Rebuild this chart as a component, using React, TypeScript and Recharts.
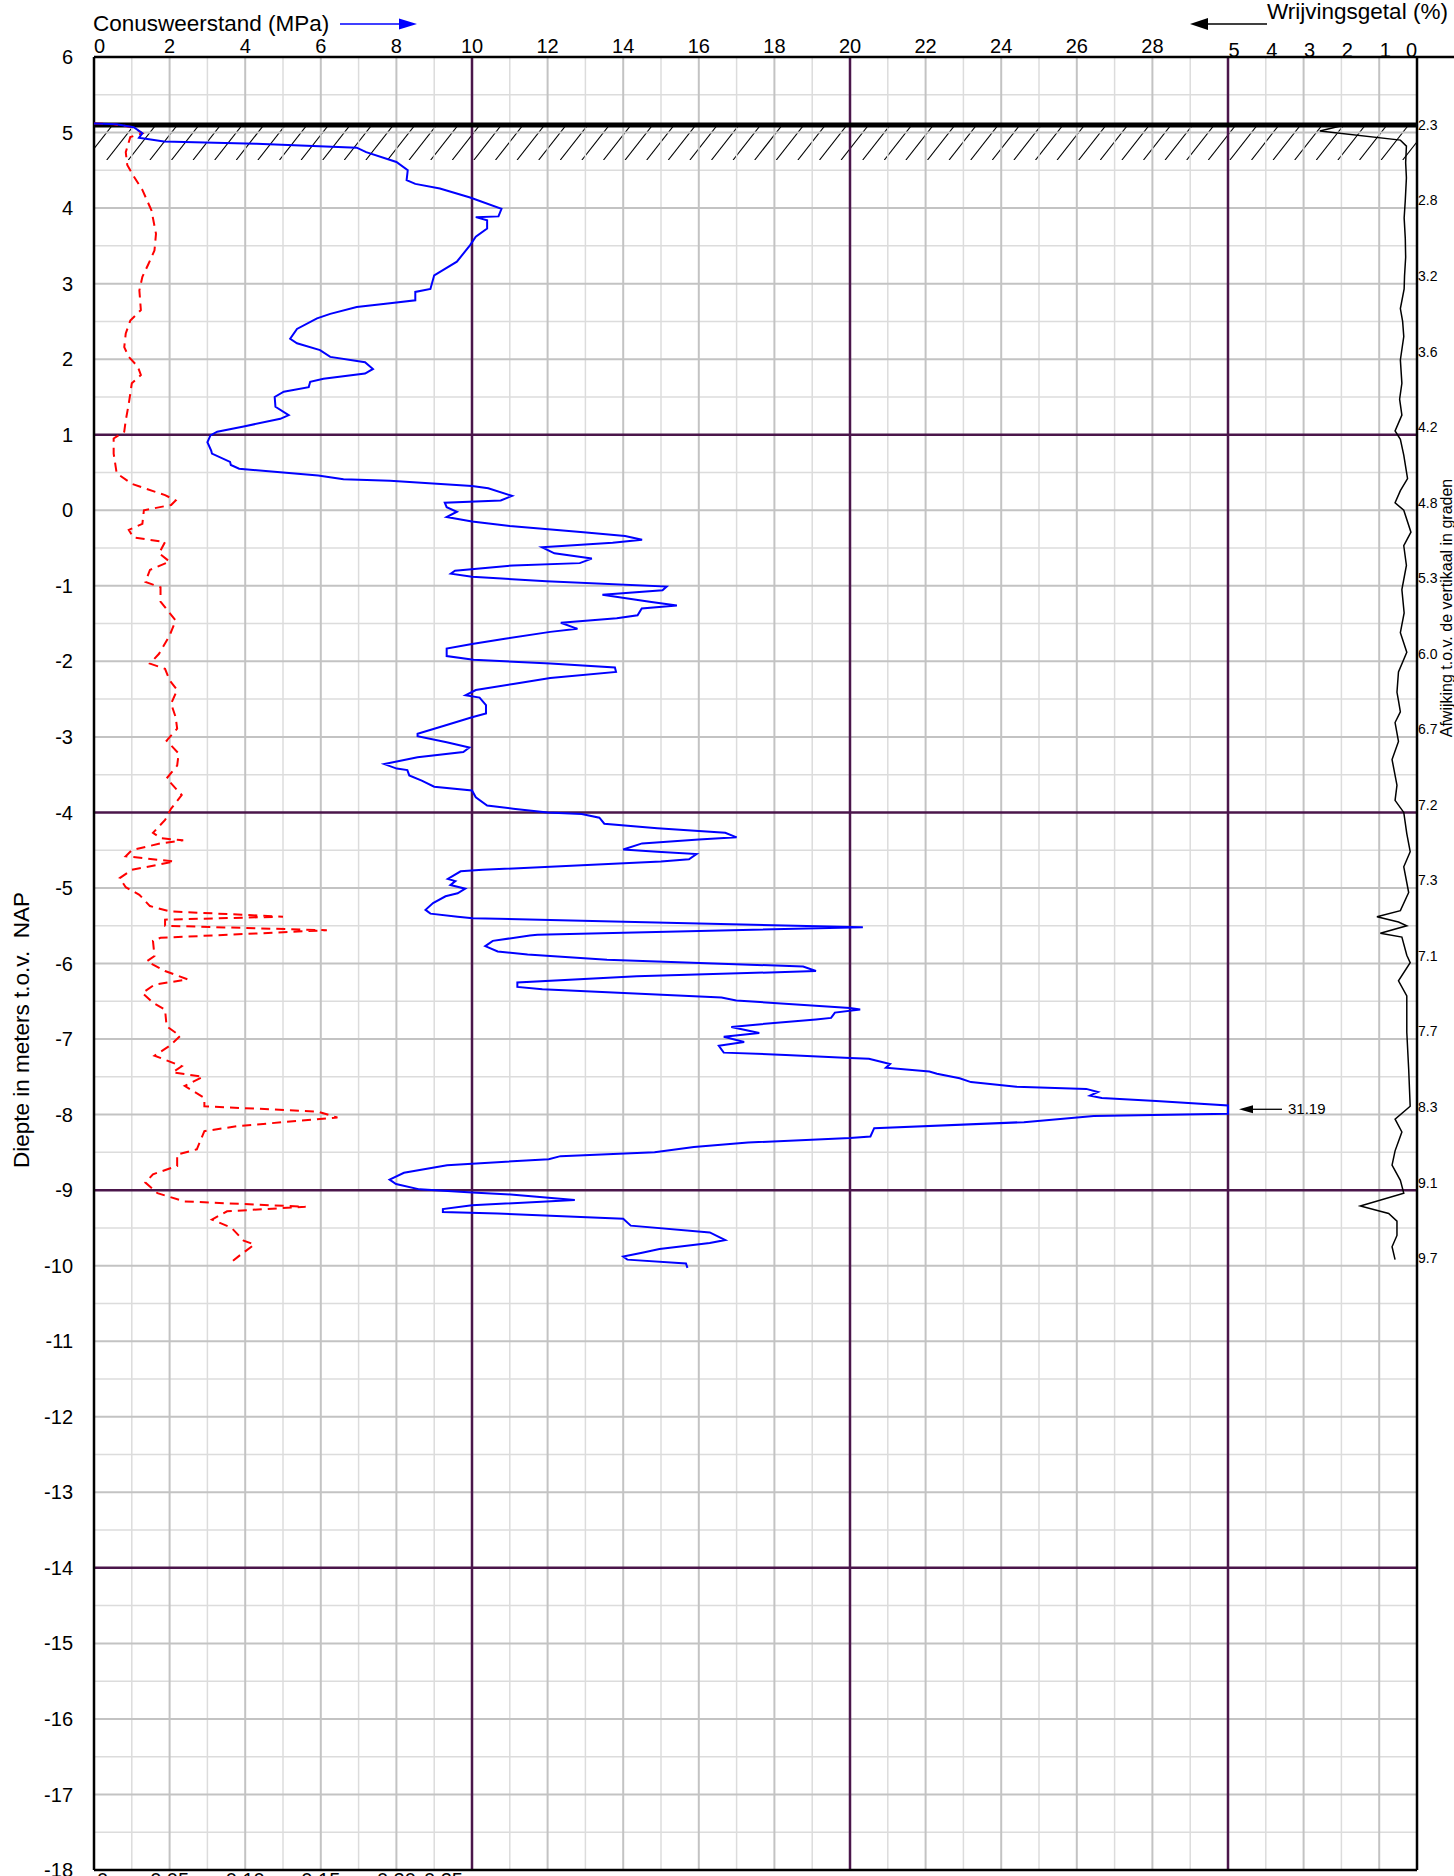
import React from 'react';
import {
  ScatterChart,
  Scatter,
  XAxis,
  YAxis,
  ReferenceLine,
  ReferenceArea,
  ReferenceDot,
} from 'recharts';

const FONT = '"Liberation Sans", Arial, Helvetica, sans-serif';

// ---- Conusweerstand qc (MPa) vs depth (m NAP)
const qcDepth = [
  5.12, 5.11, 5.07, 4.99, 4.93, 4.88, 4.85, 4.80, 4.74, 4.61,
  4.50, 4.37, 4.32, 4.26, 4.14, 3.99, 3.89, 3.88, 3.84, 3.73,
  3.62, 3.51, 3.29, 3.11, 2.93, 2.89, 2.78, 2.74, 2.69, 2.60,
  2.54, 2.40, 2.27, 2.21, 2.12, 2.03, 1.96, 1.87, 1.81, 1.74,
  1.70, 1.63, 1.57, 1.50, 1.37, 1.26, 1.21, 1.11, 1.04, 0.99,
  0.90, 0.79, 0.75, 0.64, 0.60, 0.55, 0.46, 0.41, 0.39, 0.32,
  0.29, 0.19, 0.13, 0.10, 0.04, -0.02, -0.09, -0.15, -0.21, -0.29,
  -0.34, -0.39, -0.43, -0.49, -0.57, -0.64, -0.70, -0.73, -0.80, -0.84,
  -0.88, -0.94, -1.01, -1.06, -1.12, -1.21, -1.26, -1.30, -1.39, -1.43,
  -1.49, -1.57, -1.61, -1.70, -1.77, -1.83, -1.93, -1.98, -2.03, -2.08,
  -2.14, -2.22, -2.30, -2.38, -2.45, -2.48, -2.58, -2.69, -2.74, -2.86,
  -2.96, -2.99, -3.07, -3.14, -3.20, -3.27, -3.36, -3.42, -3.44, -3.51,
  -3.58, -3.66, -3.71, -3.80, -3.91, -3.95, -4.00, -4.02, -4.07, -4.15,
  -4.21, -4.27, -4.33, -4.36, -4.41, -4.49, -4.52, -4.55, -4.62, -4.65,
  -4.76, -4.78, -4.88, -4.91, -4.96, -5.01, -5.07, -5.11, -5.20, -5.29,
  -5.34, -5.38, -5.40, -5.46, -5.52, -5.62, -5.63, -5.70, -5.77, -5.84,
  -5.88, -5.95, -6.04, -6.10, -6.17, -6.25, -6.31, -6.34, -6.45, -6.49,
  -6.59, -6.61, -6.65, -6.72, -6.74, -6.81, -6.84, -6.92, -6.97, -7.04,
  -7.09, -7.18, -7.21, -7.25, -7.26, -7.33, -7.38, -7.43, -7.46, -7.52,
  -7.57, -7.63, -7.66, -7.70, -7.75, -7.78, -7.82, -7.88, -7.93, -7.99,
  -8.02, -8.10, -8.18, -8.29, -8.31, -8.37, -8.43, -8.50, -8.55, -8.59,
  -8.65, -8.67, -8.77, -8.86, -8.92, -8.99, -9.03, -9.06, -9.13, -9.20,
  -9.25, -9.29, -9.31, -9.38, -9.47, -9.56, -9.66, -9.70, -9.78, -9.83,
  -9.88, -9.92, -9.97, -10.03,
];
const qcValues = [
  0, 0.6, 1.05, 1.28, 1.19, 1.85, 4.3, 6.95, 7.2, 8.0,
  8.3, 8.27, 8.5, 9.15, 9.95, 10.78, 10.7, 10.1, 10.4, 10.4,
  10.1, 9.95, 9.6, 9.0, 8.9, 8.5, 8.5, 7.83, 6.95, 6.25,
  5.9, 5.37, 5.19, 5.37, 5.98, 6.25, 7.17, 7.38, 7.17, 6.07,
  5.72, 5.68, 5.02, 4.78, 4.8, 5.15, 4.93, 3.96, 3.26, 3.08,
  3.0, 3.1, 3.12, 3.6, 3.62, 3.84, 5.93, 6.6, 7.83, 10.0,
  10.43, 11.06, 10.76, 9.28, 9.33, 9.6, 9.33, 10.0, 11.0, 12.95,
  14.05, 14.5, 13.72, 11.85, 12.18, 13.17, 12.85, 11.09, 9.55, 9.44,
  10.0, 11.97, 15.15, 15.04, 13.45, 14.7, 15.42, 14.49, 14.38, 13.83,
  12.35, 12.79, 12.07, 10.87, 10.0, 9.33, 9.33, 10.04, 12.07, 13.78,
  13.81, 12.07, 11.09, 10.1, 9.83, 10.2, 10.37, 10.37, 10.0, 9.22,
  8.56, 8.56, 9.33, 9.93, 9.77, 8.56, 7.68, 8.01, 8.29, 8.34,
  8.67, 9.0, 10.0, 10.1, 10.4, 11.09, 12.0, 12.9, 13.37, 13.5,
  14.9, 16.7, 17.0, 16.0, 14.5, 14.0, 14.9, 15.94, 15.74, 15.0,
  10.28, 9.7, 9.36, 9.56, 9.43, 9.82, 9.62, 9.3, 8.97, 8.77,
  8.9, 9.62, 10.02, 15.15, 20.34, 11.73, 11.53, 10.55, 10.35, 10.68,
  11.47, 13.57, 18.76, 19.1, 14.36, 11.2, 11.2, 11.86, 16.6, 16.99,
  20.0, 20.27, 19.6, 19.5, 19.1, 17.5, 16.86, 17.6, 16.66, 17.2,
  16.53, 16.66, 18.3, 20.0, 20.5, 21.06, 20.95, 22.1, 22.3, 22.9,
  23.2, 24.4, 26.25, 26.56, 26.35, 26.66, 28.1, 30.0, 31.19, 30.0,
  26.45, 24.6, 20.64, 20.54, 20.0, 17.3, 15.87, 14.83, 12.34, 12.03,
  10.0, 9.34, 8.2, 7.82, 7.99, 8.61, 10.0, 11.1, 12.72, 10.0,
  9.23, 9.23, 10.68, 14.0, 14.2, 16.29, 16.7, 16.29, 14.96, 14.5,
  14.0, 14.11, 15.66, 15.7,
];
const qcPlotMax = 30; // cone scale ends at 30 MPa; larger values are annotated
const qcMaxLabel = '31.19';
const qcMaxDepth = -7.93;

// ---- Wrijvingsweerstand fs (MPa), bottom scale
const fsDepth = [
  5.12, 5.11, 5.07, 4.99, 4.94, 4.74, 4.57, 4.43, 4.24, 3.97,
  3.66, 3.44, 3.26, 3.09, 2.91, 2.65, 2.51, 2.34, 2.16, 2.03,
  1.90, 1.79, 1.68, 1.41, 1.19, 1.04, 0.95, 0.75, 0.49, 0.35,
  0.20, 0.13, 0.07, 0.00, -0.18, -0.26, -0.36, -0.42, -0.57, -0.68,
  -0.79, -0.95, -1.02, -1.21, -1.46, -1.66, -1.90, -2.03, -2.10, -2.25,
  -2.38, -2.56, -2.74, -2.89, -3.05, -3.22, -3.38, -3.55, -3.77, -3.95,
  -4.10, -4.27, -4.34, -4.37, -4.41, -4.50, -4.58, -4.65, -4.76, -4.87,
  -4.99, -5.09, -5.24, -5.31, -5.38, -5.42, -5.50, -5.56, -5.66, -5.70,
  -5.90, -5.97, -6.10, -6.21, -6.28, -6.39, -6.52, -6.61, -6.83, -6.96,
  -7.09, -7.22, -7.36, -7.44, -7.50, -7.62, -7.78, -7.89, -7.96, -8.04,
  -8.15, -8.22, -8.46, -8.53, -8.68, -8.79, -8.90, -9.04, -9.15, -9.22,
  -9.28, -9.39, -9.50, -9.67, -9.72, -9.87, -9.95,
];
const fsValues = [
  0, 0.013, 0.026, 0.032, 0.024, 0.021, 0.022, 0.026, 0.032, 0.038,
  0.041, 0.040, 0.036, 0.032, 0.030, 0.031, 0.024, 0.021, 0.020, 0.023,
  0.029, 0.031, 0.025, 0.023, 0.021, 0.020, 0.013, 0.013, 0.015, 0.025,
  0.047, 0.054, 0.051, 0.033, 0.032, 0.023, 0.026, 0.047, 0.043, 0.050,
  0.037, 0.034, 0.044, 0.044, 0.054, 0.050, 0.043, 0.037, 0.047, 0.050,
  0.055, 0.051, 0.054, 0.055, 0.048, 0.056, 0.055, 0.048, 0.058, 0.051,
  0.047, 0.039, 0.044, 0.059, 0.044, 0.025, 0.021, 0.053, 0.025, 0.017,
  0.021, 0.030, 0.037, 0.050, 0.125, 0.047, 0.047, 0.154, 0.044, 0.039,
  0.040, 0.035, 0.047, 0.062, 0.040, 0.032, 0.039, 0.047, 0.048, 0.057,
  0.050, 0.040, 0.058, 0.052, 0.072, 0.060, 0.073, 0.073, 0.148, 0.161,
  0.096, 0.073, 0.068, 0.055, 0.055, 0.039, 0.034, 0.042, 0.060, 0.140,
  0.088, 0.078, 0.091, 0.099, 0.106, 0.096, 0.091,
];

// ---- Wrijvingsgetal Rf (%), reversed scale at the right
const rfDepth = [
  5.09, 5.02, 4.90, 4.82, 4.60, 4.40, 4.10, 3.87, 3.60, 3.35,
  3.10, 2.93, 2.67, 2.50, 2.30, 1.99, 1.68, 1.47, 1.26, 1.05,
  0.94, 0.73, 0.42, 0.26, 0.10, 0.00, -0.29, -0.47, -0.73, -1.05,
  -1.36, -1.62, -1.88, -2.14, -2.41, -2.52, -2.67, -2.81, -3.06, -3.30,
  -3.64, -3.84, -4.00, -4.28, -4.52, -4.72, -5.06, -5.30, -5.38, -5.45,
  -5.50, -5.60, -5.65, -5.89, -5.99, -6.23, -6.43, -6.91, -7.40, -7.89,
  -8.06, -8.23, -8.48, -8.67, -8.87, -9.04, -9.21, -9.31, -9.41, -9.60,
  -9.75, -9.92,
];
const rfValues = [
  2.0, 2.57, 0.44, 0.28, 0.30, 0.28, 0.31, 0.34, 0.31, 0.30,
  0.33, 0.34, 0.44, 0.38, 0.35, 0.44, 0.40, 0.46, 0.40, 0.58,
  0.44, 0.35, 0.25, 0.44, 0.58, 0.35, 0.16, 0.35, 0.28, 0.40,
  0.34, 0.44, 0.27, 0.49, 0.53, 0.49, 0.44, 0.58, 0.49, 0.66,
  0.53, 0.58, 0.35, 0.27, 0.18, 0.35, 0.22, 0.44, 1.06, 0.49,
  0.27, 0.97, 0.40, 0.27, 0.18, 0.49, 0.27, 0.27, 0.22, 0.18,
  0.58, 0.40, 0.58, 0.66, 0.44, 0.35, 1.50, 0.75, 0.53, 0.53,
  0.66, 0.58,
];

// ---- Afwijking t.o.v. de vertikaal (graden), labels at the right
const devDepth = [5.1, 4.1, 3.1, 2.1, 1.1, 0.1, -0.9, -1.9, -2.9, -3.9, -4.9, -5.9, -6.9, -7.9, -8.9, -9.9];
const devLabels = ['2.3', '2.8', '3.2', '3.6', '4.2', '4.8', '5.3', '6.0', '6.7', '7.2', '7.3', '7.1', '7.7', '8.3', '9.1', '9.7'];

// ---- axes / grid
const coneTicks = [0, 2, 4, 6, 8, 10, 12, 14, 16, 18, 20, 22, 24, 26, 28, 30, 31, 32, 33, 34, 35];
const coneMax = 35;
const depthTicks = [6, 5, 4, 3, 2, 1, 0, -1, -2, -3, -4, -5, -6, -7, -8, -9, -10, -11, -12, -13, -14, -15, -16, -17, -18];
const fsTicks = [0, 0.05, 0.1, 0.15, 0.2, 0.25];
const fsMax = 0.875;
const groundLevel = 5.1;
const hatchBottom = 4.636;
const hatchTop = 5.087;
const purpleX = [10, 20, 30];
const purpleY = [1, -4, -9, -14];
const majorX = [2, 4, 6, 8, 12, 14, 16, 18, 22, 24, 26, 28, 32, 34];
const minorX = [1, 3, 5, 7, 9, 11, 13, 15, 17, 19, 21, 23, 25, 27, 29, 31, 33];
const majorY = [5, 4, 3, 2, 0, -1, -2, -3, -5, -6, -7, -8, -10, -11, -12, -13, -15, -16, -17];
const minorY = [5.5, 4.5, 3.5, 2.5, 1.5, 0.5, -0.5, -1.5, -2.5, -3.5, -4.5, -5.5, -6.5, -7.5, -8.5, -9.5, -10.5, -11.5, -12.5, -13.5, -14.5, -15.5, -16.5, -17.5];

const qcData = qcDepth.map((d, i) => ({ d, q: Math.min(qcValues[i], qcPlotMax) }));
const fsData = fsDepth.map((d, i) => ({ d, fs: fsValues[i] }));
const rfData = rfDepth.map((d, i) => ({ d, rf: rfValues[i] }));
const devMap: Record<string, string> = {};
devDepth.forEach((d, i) => { devMap[d.toFixed(1)] = devLabels[i]; });

const PURPLE = '#4b164b';
const MAJOR = '#c3c3c3';
const MINOR = '#dcdcdc';

const TopTick = (props: any) => {
  const { x, y, payload } = props;
  const v = payload.value;
  let label: string;
  let anchor = 'middle';
  let dx = 0;
  let dy = -4;
  if (v <= 28) {
    label = String(v);
    if (v === 0) anchor = 'start';
  } else {
    label = String(coneMax - v);
    dx = 6;
    dy = 0;
    if (v === coneMax) { anchor = 'end'; dx = 0; }
  }
  return (
    <text x={x + dx} y={y + dy} textAnchor={anchor} fontSize={20} fontFamily={FONT} fill="#000">
      {label}
    </text>
  );
};

const BottomTick = (props: any) => {
  const { x, y, payload } = props;
  const v = payload.value;
  let anchor = 'middle';
  let dx = 0;
  let label = v.toFixed(2);
  if (v === 0) { anchor = 'start'; dx = 3; label = '0'; }
  if (v === 0.25) { anchor = 'end'; dx = -9; }
  return (
    <text x={x + dx} y={y + 17} textAnchor={anchor} fontSize={20} fontFamily={FONT} fill="#000">
      {label}
    </text>
  );
};

const Hatch = (props: any) => {
  const { x, y, width, height } = props;
  const step = 21.6;
  const run = height * 0.785;
  const lines = [];
  for (let bx = x + 12.7 - 2 * step; bx < x + width; bx += step) {
    lines.push(<line key={bx} x1={bx} y1={y + height} x2={bx + run} y2={y} stroke="#000" strokeWidth={1.1} />);
  }
  return (
    <g>
      <defs>
        <clipPath id="hatchClip">
          <rect x={x} y={y} width={width} height={height} />
        </clipPath>
      </defs>
      <g clipPath="url(#hatchClip)">{lines}</g>
    </g>
  );
};

const ArrowLabel = (props: any) => {
  const { cx, cy } = props;
  return (
    <g>
      <polygon points={`${cx + 11},${cy} ${cx + 25},${cy - 4} ${cx + 25},${cy + 4}`} fill="#000" />
      <line x1={cx + 24} y1={cy} x2={cx + 54} y2={cy} stroke="#000" strokeWidth={1.3} />
      <text x={cx + 60} y={cy + 5} fontSize={15} fontFamily={FONT} fill="#000">{qcMaxLabel}</text>
    </g>
  );
};

const NoDot = () => <g />;

export default function App() {
  return (
    <div style={{ position: 'absolute', left: 0, top: 0, width: 1454, height: 1900, background: '#fff', overflow: 'hidden' }}>
      <div style={{ position: 'absolute', left: 0, top: 0 }}>
        <ScatterChart width={1454} height={1900} margin={{ top: 0, right: 0, bottom: 0, left: 0 }}>
          <XAxis
            xAxisId="q"
            type="number"
            dataKey="q"
            orientation="top"
            domain={[0, coneMax]}
            ticks={coneTicks}
            interval={0}
            height={57}
            tickSize={0}
            tickMargin={0}
            tick={<TopTick />}
            axisLine={{ stroke: '#000', strokeWidth: 2.5 }}
            allowDataOverflow
          />
          <XAxis xAxisId="rf" type="number" dataKey="rf" orientation="top" domain={[0, coneMax]} reversed hide allowDataOverflow />
          <XAxis
            xAxisId="fs"
            type="number"
            dataKey="fs"
            orientation="bottom"
            domain={[0, fsMax]}
            ticks={fsTicks}
            interval={0}
            height={30}
            tickSize={0}
            tickMargin={0}
            tick={<BottomTick />}
            axisLine={{ stroke: '#000', strokeWidth: 2.5 }}
            allowDataOverflow
          />
          <YAxis
            yAxisId="d"
            type="number"
            dataKey="d"
            domain={[-18, 6]}
            ticks={depthTicks}
            interval={0}
            width={94}
            tickSize={0}
            tickMargin={21}
            tick={{ fontSize: 20, fill: '#000', fontFamily: FONT }}
            axisLine={{ stroke: '#000', strokeWidth: 2.5 }}
            allowDataOverflow
          />
          <YAxis
            yAxisId="dev"
            type="number"
            dataKey="d"
            orientation="right"
            domain={[-18, 6]}
            ticks={devDepth}
            interval={0}
            width={37}
            tickSize={0}
            tickMargin={1}
            tickFormatter={(v: number) => devMap[v.toFixed(1)] || ''}
            tick={{ fontSize: 14, fill: '#000', fontFamily: FONT, textAnchor: 'start' }}
            axisLine={{ stroke: '#000', strokeWidth: 2.5 }}
            allowDataOverflow
          />

          {minorX.map((v) => (
            <ReferenceLine key={`mx${v}`} xAxisId="q" yAxisId="d" x={v} stroke={MINOR} strokeWidth={1.5} />
          ))}
          {minorY.map((v) => (
            <ReferenceLine key={`my${v}`} xAxisId="q" yAxisId="d" y={v} stroke={MINOR} strokeWidth={1.5} />
          ))}
          {majorX.map((v) => (
            <ReferenceLine key={`Mx${v}`} xAxisId="q" yAxisId="d" x={v} stroke={MAJOR} strokeWidth={2} />
          ))}
          {majorY.map((v) => (
            <ReferenceLine key={`My${v}`} xAxisId="q" yAxisId="d" y={v} stroke={MAJOR} strokeWidth={2} />
          ))}
          {purpleX.map((v) => (
            <ReferenceLine key={`px${v}`} xAxisId="q" yAxisId="d" x={v} stroke={PURPLE} strokeWidth={2.5} />
          ))}
          {purpleY.map((v) => (
            <ReferenceLine key={`py${v}`} xAxisId="q" yAxisId="d" y={v} stroke={PURPLE} strokeWidth={2.5} />
          ))}

          <ReferenceArea
            xAxisId="q"
            yAxisId="d"
            x1={0}
            x2={coneMax}
            y1={hatchBottom}
            y2={hatchTop}
            shape={Hatch}
          />
          <ReferenceLine xAxisId="q" yAxisId="d" y={groundLevel} stroke="#000" strokeWidth={5} />

          <Scatter
            xAxisId="fs"
            yAxisId="d"
            data={fsData}
            line={{ stroke: '#ff0000', strokeWidth: 2, strokeDasharray: '9 6', fill: 'none' }}
            lineType="joint"
            shape={NoDot}
            isAnimationActive={false}
          />
          <Scatter
            xAxisId="q"
            yAxisId="d"
            data={qcData}
            line={{ stroke: '#0000ff', strokeWidth: 2, fill: 'none' }}
            lineType="joint"
            shape={NoDot}
            isAnimationActive={false}
          />
          <Scatter
            xAxisId="rf"
            yAxisId="dev"
            data={rfData}
            line={{ stroke: '#000', strokeWidth: 1.5, fill: 'none' }}
            lineType="joint"
            shape={NoDot}
            isAnimationActive={false}
          />
          <ReferenceDot xAxisId="q" yAxisId="d" x={qcPlotMax} y={qcMaxDepth} r={0} shape={ArrowLabel} />
        </ScatterChart>
      </div>
      <svg
        width={1454}
        height={1900}
        style={{ position: 'absolute', left: 0, top: 0, pointerEvents: 'none' }}
        fontFamily={FONT}
      >
        <text x={93} y={31} fontSize={22.5} fill="#000">Conusweerstand (MPa)</text>
        <line x1={340} y1={24} x2={402} y2={24} stroke="#0000ff" strokeWidth={1.5} />
        <polygon points="399,18.5 417,24 399,29.5" fill="#0000ff" />
        <text x={1267} y={19} fontSize={22.5} fill="#000">Wrijvingsgetal (%)</text>
        <line x1={1205} y1={24} x2={1267} y2={24} stroke="#000" strokeWidth={1.5} />
        <polygon points="1208,18 1190,24 1208,30" fill="#000" />
        <line x1={1417} y1={57} x2={1454} y2={57} stroke="#000" strokeWidth={2.5} />
        <text
          x={29}
          y={1030}
          fontSize={22.5}
          fill="#000"
          textAnchor="middle"
          transform="rotate(-90 29 1030)"
          style={{ whiteSpace: 'pre' }}
        >
          {'Diepte in meters t.o.v.  NAP'}
        </text>
        <text
          x={1452}
          y={608}
          fontSize={16}
          fill="#000"
          textAnchor="middle"
          transform="rotate(-90 1452 608)"
        >
          Afwijking t.o.v. de vertikaal in graden
        </text>
      </svg>
    </div>
  );
}
